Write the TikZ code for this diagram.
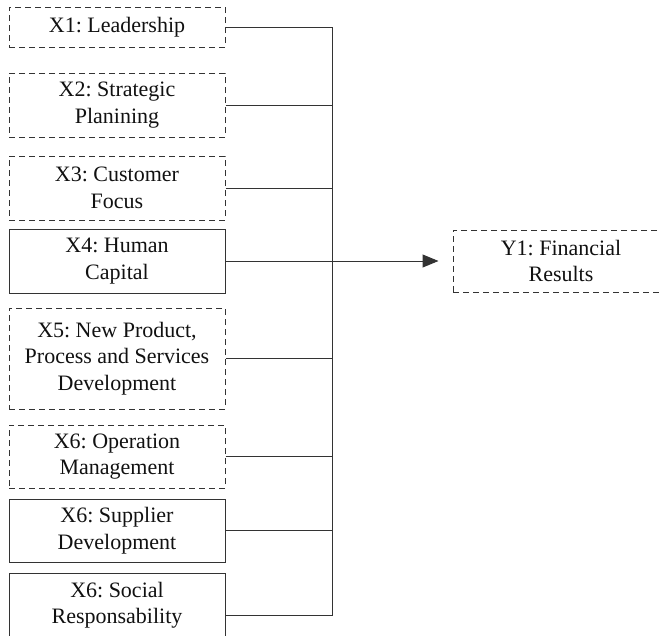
\documentclass[tikz,border=0pt]{standalone}
\usepackage{fontspec}
\setmainfont{Liberation Serif}
\usetikzlibrary{arrows.meta}
\definecolor{linec}{HTML}{333333}
\definecolor{textc}{HTML}{111111}
\frenchspacing
\begin{document}
\begin{tikzpicture}[x=1pt,y=-1pt,
  box/.style={draw=linec, line width=1pt, minimum width=216pt, align=center,
    font=\fontsize{22}{26.5}\selectfont\frenchspacing, text=textc, inner sep=0pt},
  dbox/.style={box, dash pattern=on 6pt off 4pt},
  conn/.style={draw=linec, line width=1pt}]
\useasboundingbox (0,0) rectangle (661,635);
\clip (0,0) rectangle (661,635);
\node[dbox, minimum height=40pt] (b1) at (117,27) {X1: Leadership};
\node[dbox, minimum height=64pt] (b2) at (117,105) {X2: Strategic\\Planining};
\node[dbox, minimum height=64pt] (b3) at (117,188) {X3: Customer\\Focus};
\node[box, minimum height=64pt] (b4) at (117,261) {X4: Human\\Capital};
\node[dbox, minimum height=101pt] (b5) at (117,358.5) {X5: New Product,\\Process and Services\\Development};
\node[dbox, minimum height=63pt] (b6) at (117,456.5) {X6: Operation\\Management};
\node[box, minimum height=63pt] (b7) at (117,530.5) {X6: Supplier\\Development};
\node[box, minimum height=64pt] (b8) at (117,605) {X6: Social\\Responsability};
\node[dbox, minimum width=216pt, minimum height=62pt] (y1) at (561,261) {Y1: Financial\\Results};
\coordinate (top) at (332,27);
\coordinate (bot) at (332,615);
\draw[conn] (b1.east) -- (top) -- (bot) -- ([yshift=-10pt]b8.east);
\draw[conn] (b2.east) -- (b2.east -| top);
\draw[conn] (b3.east) -- (b3.east -| top);
\draw[conn] (b5.east) -- (b5.east -| top);
\draw[conn] (b6.east) -- (b6.east -| top);
\draw[conn] (b7.east) -- (b7.east -| top);
\draw[conn, -{Triangle[length=16pt,width=13pt]}] (b4.east) -- ([xshift=-14pt]y1.west);
\end{tikzpicture}
\end{document}
